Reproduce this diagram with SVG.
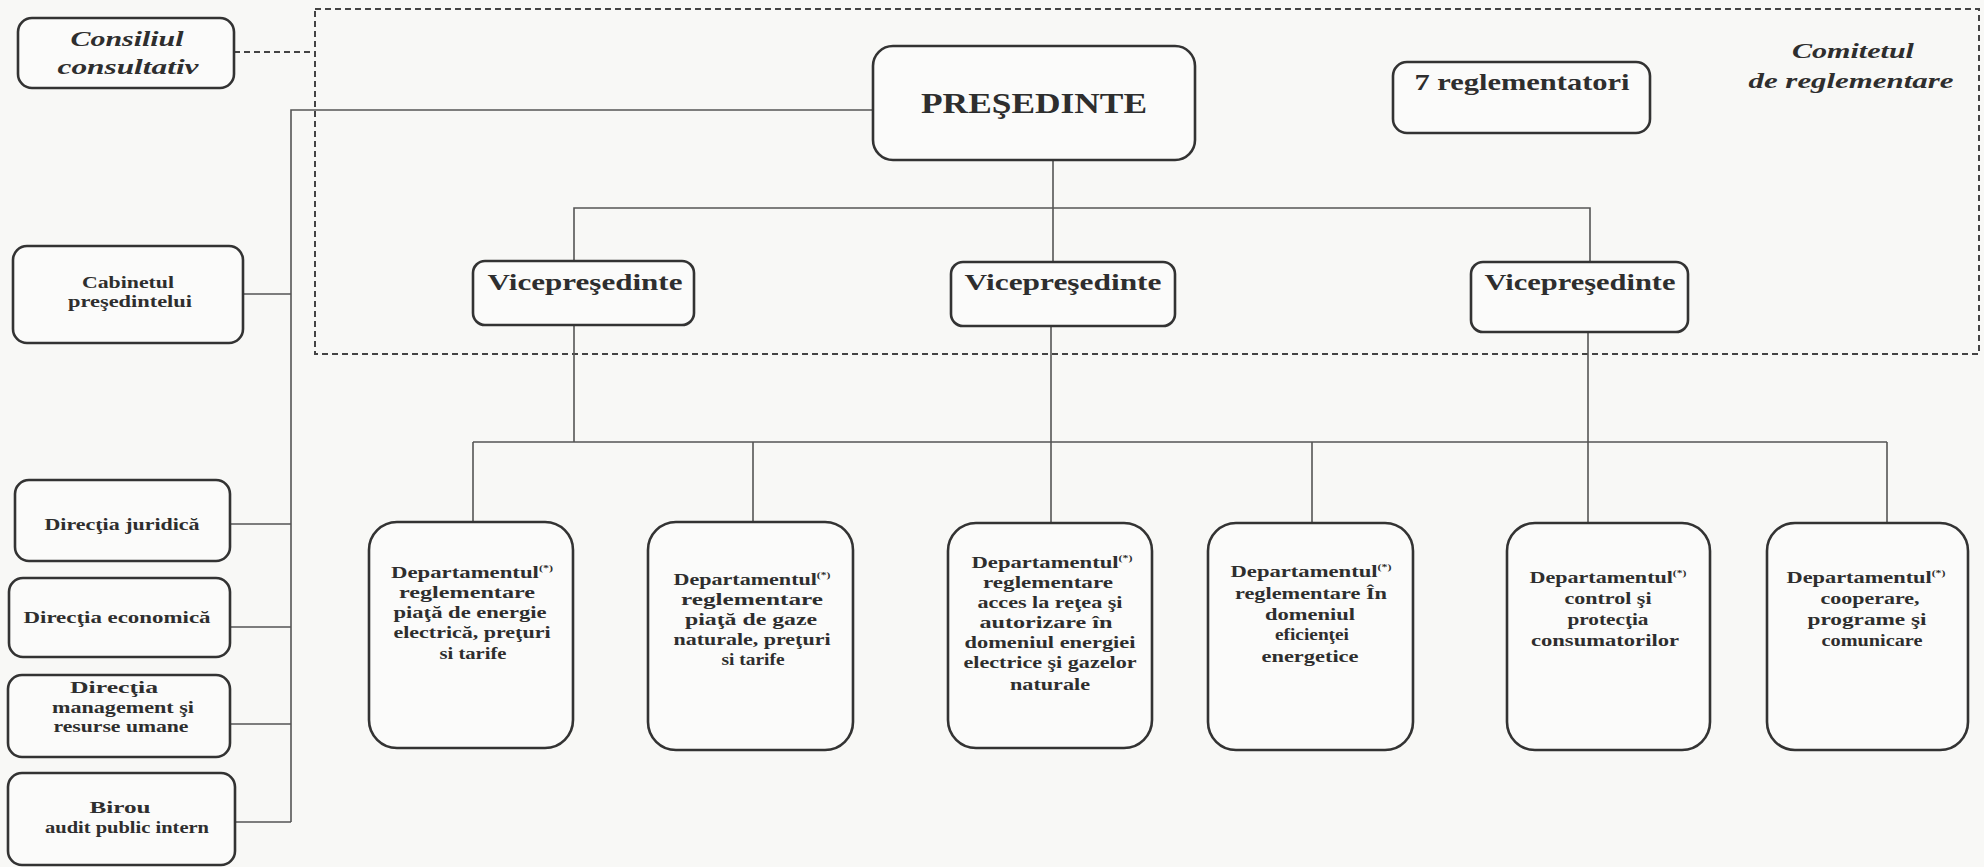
<svg xmlns="http://www.w3.org/2000/svg" width="1984" height="867" viewBox="0 0 1984 867">
<style>
text{font-family:"Liberation Serif","Times New Roman",serif;font-weight:bold;fill:#2e2e2e;text-anchor:middle}
.it{font-style:italic}
.box{fill:#fbfbfa;stroke:#333;stroke-width:2.6}
.ln{fill:none;stroke:#555;stroke-width:1.6}
.dash{fill:none;stroke:#444;stroke-width:2;stroke-dasharray:6 4}
.d{font-size:17px}
.l{font-size:17px}
.sup{font-size:9px}
</style>
<rect x="0" y="0" width="1984" height="867" fill="#f8f8f6"/>
<g id="connectors">
<rect class="dash" x="315" y="9" width="1664" height="345"/>
<line class="dash" x1="234" y1="52" x2="315" y2="52"/>
<polyline class="ln" points="873,110 291,110 291,822"/>
<line class="ln" x1="243" y1="294" x2="291" y2="294"/>
<line class="ln" x1="230" y1="524" x2="291" y2="524"/>
<line class="ln" x1="230" y1="627" x2="291" y2="627"/>
<line class="ln" x1="230" y1="724" x2="291" y2="724"/>
<line class="ln" x1="235" y1="822" x2="291" y2="822"/>
<line class="ln" x1="1053" y1="160" x2="1053" y2="262"/>
<polyline class="ln" points="574,261 574,208 1590,208 1590,262"/>
<line class="ln" x1="574" y1="325" x2="574" y2="442"/>
<line class="ln" x1="1051" y1="326" x2="1051" y2="523"/>
<line class="ln" x1="1588" y1="332" x2="1588" y2="523"/>
<line class="ln" x1="473" y1="442" x2="1887" y2="442"/>
<line class="ln" x1="473" y1="442" x2="473" y2="522"/>
<line class="ln" x1="753" y1="442" x2="753" y2="522"/>
<line class="ln" x1="1312" y1="442" x2="1312" y2="523"/>
<line class="ln" x1="1887" y1="442" x2="1887" y2="523"/>
</g>
<g id="consiliul">
<rect class="box" x="18" y="18" width="216" height="70" rx="14"/>
<text class="it" x="127" y="46" font-size="22" textLength="113" lengthAdjust="spacingAndGlyphs">Consiliul</text>
<text class="it" x="128" y="74" font-size="22" textLength="141" lengthAdjust="spacingAndGlyphs">consultativ</text>
</g>
<g id="comitetul">
<text class="it" x="1853" y="58" font-size="22" textLength="122" lengthAdjust="spacingAndGlyphs">Comitetul</text>
<text class="it" x="1851" y="88" font-size="22" textLength="205" lengthAdjust="spacingAndGlyphs">de reglementare</text>
</g>
<g id="presedinte">
<rect class="box" x="873" y="46" width="322" height="114" rx="20"/>
<text x="1034" y="113" font-size="30" textLength="226" lengthAdjust="spacingAndGlyphs">PREŞEDINTE</text>
</g>
<g id="reglementatori">
<rect class="box" x="1393" y="62" width="257" height="71" rx="14"/>
<text x="1522" y="90" font-size="24" textLength="215" lengthAdjust="spacingAndGlyphs">7 reglementatori</text>
</g>
<g id="vp1">
<rect class="box" x="473" y="261" width="221" height="64" rx="12"/>
<text x="585" y="290" font-size="23" textLength="195" lengthAdjust="spacingAndGlyphs">Vicepreşedinte</text>
</g>
<g id="vp2">
<rect class="box" x="951" y="262" width="224" height="64" rx="12"/>
<text x="1063" y="290" font-size="23" textLength="197" lengthAdjust="spacingAndGlyphs">Vicepreşedinte</text>
</g>
<g id="vp3">
<rect class="box" x="1471" y="262" width="217" height="70" rx="12"/>
<text x="1580" y="290" font-size="23" textLength="191" lengthAdjust="spacingAndGlyphs">Vicepreşedinte</text>
</g>
<g id="cabinetul">
<rect class="box" x="13" y="246" width="230" height="97" rx="14"/>
<text class="l" x="128" y="288" font-size="16" textLength="92" lengthAdjust="spacingAndGlyphs">Cabinetul</text>
<text class="l" x="130" y="307" font-size="16" textLength="124" lengthAdjust="spacingAndGlyphs">preşedintelui</text>
</g>
<g id="juridica">
<rect class="box" x="15" y="480" width="215" height="81" rx="14"/>
<text class="l" x="122" y="530" textLength="155" lengthAdjust="spacingAndGlyphs">Direcţia juridică</text>
</g>
<g id="economica">
<rect class="box" x="9" y="578" width="221" height="79" rx="14"/>
<text class="l" x="117" y="623" textLength="187" lengthAdjust="spacingAndGlyphs">Direcţia economică</text>
</g>
<g id="management">
<rect class="box" x="8" y="675" width="222" height="82" rx="14"/>
<text class="l" x="114" y="693" textLength="88" lengthAdjust="spacingAndGlyphs">Direcţia</text>
<text class="l" x="123" y="713" textLength="142" lengthAdjust="spacingAndGlyphs">management şi</text>
<text class="l" x="121" y="732" textLength="135" lengthAdjust="spacingAndGlyphs">resurse umane</text>
</g>
<g id="biron">
<rect class="box" x="8" y="773" width="227" height="92" rx="14"/>
<text class="l" x="120" y="813" textLength="61" lengthAdjust="spacingAndGlyphs">Birou</text>
<text class="l" x="127" y="833" textLength="164" lengthAdjust="spacingAndGlyphs">audit public intern</text>
</g>
<g id="dept1">
<rect class="box" x="369" y="522" width="204" height="226" rx="28"/>
<text class="d" x="472" y="578" textLength="162" lengthAdjust="spacingAndGlyphs">Departamentul<tspan class="sup" dy="-7">(*)</tspan></text>
<text class="d" x="467" y="598" textLength="136" lengthAdjust="spacingAndGlyphs">reglementare</text>
<text class="d" x="470" y="618" textLength="153" lengthAdjust="spacingAndGlyphs">piaţă de energie</text>
<text class="d" x="472" y="638" textLength="157" lengthAdjust="spacingAndGlyphs">electrică, preţuri</text>
<text class="d" x="473" y="659" textLength="67" lengthAdjust="spacingAndGlyphs">si tarife</text>
</g>
<g id="dept2">
<rect class="box" x="648" y="522" width="205" height="228" rx="28"/>
<text class="d" x="752" y="585" textLength="157" lengthAdjust="spacingAndGlyphs">Departamentul<tspan class="sup" dy="-7">(*)</tspan></text>
<text class="d" x="752" y="605" textLength="142" lengthAdjust="spacingAndGlyphs">reglementare</text>
<text class="d" x="751" y="625" textLength="132" lengthAdjust="spacingAndGlyphs">piaţă de  gaze</text>
<text class="d" x="752" y="645" textLength="157" lengthAdjust="spacingAndGlyphs">naturale, preţuri</text>
<text class="d" x="753" y="665" textLength="63" lengthAdjust="spacingAndGlyphs">si tarife</text>
</g>
<g id="dept3">
<rect class="box" x="948" y="523" width="204" height="225" rx="28"/>
<text class="d" x="1052" y="568" textLength="161" lengthAdjust="spacingAndGlyphs">Departamentul<tspan class="sup" dy="-7">(*)</tspan></text>
<text class="d" x="1048" y="588" textLength="130" lengthAdjust="spacingAndGlyphs">reglementare</text>
<text class="d" x="1050" y="608" textLength="145" lengthAdjust="spacingAndGlyphs">acces la reţea şi</text>
<text class="d" x="1046" y="628" textLength="133" lengthAdjust="spacingAndGlyphs">autorizare în</text>
<text class="d" x="1050" y="648" textLength="171" lengthAdjust="spacingAndGlyphs">domeniul energiei</text>
<text class="d" x="1050" y="668" textLength="173" lengthAdjust="spacingAndGlyphs">electrice şi gazelor</text>
<text class="d" x="1050" y="690" textLength="80" lengthAdjust="spacingAndGlyphs">naturale</text>
</g>
<g id="dept4">
<rect class="box" x="1208" y="523" width="205" height="227" rx="28"/>
<text class="d" x="1311" y="577" textLength="161" lengthAdjust="spacingAndGlyphs">Departamentul<tspan class="sup" dy="-7">(*)</tspan></text>
<text class="d" x="1311" y="599" textLength="152" lengthAdjust="spacingAndGlyphs">reglementare În</text>
<text class="d" x="1310" y="620" textLength="90" lengthAdjust="spacingAndGlyphs">domeniul</text>
<text class="d" x="1312" y="640" textLength="74" lengthAdjust="spacingAndGlyphs">eficienţei</text>
<text class="d" x="1310" y="662" textLength="97" lengthAdjust="spacingAndGlyphs">energetice</text>
</g>
<g id="dept5">
<rect class="box" x="1507" y="523" width="203" height="227" rx="28"/>
<text class="d" x="1608" y="583" textLength="157" lengthAdjust="spacingAndGlyphs">Departamentul<tspan class="sup" dy="-7">(*)</tspan></text>
<text class="d" x="1608" y="604" textLength="87" lengthAdjust="spacingAndGlyphs">control şi</text>
<text class="d" x="1608" y="625" textLength="81" lengthAdjust="spacingAndGlyphs">protecţia</text>
<text class="d" x="1605" y="646" textLength="148" lengthAdjust="spacingAndGlyphs">consumatorilor</text>
</g>
<g id="dept6">
<rect class="box" x="1767" y="523" width="201" height="227" rx="28"/>
<text class="d" x="1866" y="583" textLength="159" lengthAdjust="spacingAndGlyphs">Departamentul<tspan class="sup" dy="-7">(*)</tspan></text>
<text class="d" x="1870" y="604" textLength="99" lengthAdjust="spacingAndGlyphs">cooperare,</text>
<text class="d" x="1867" y="625" textLength="119" lengthAdjust="spacingAndGlyphs">programe  şi</text>
<text class="d" x="1872" y="646" textLength="101" lengthAdjust="spacingAndGlyphs">comunicare</text>
</g>
</svg>
